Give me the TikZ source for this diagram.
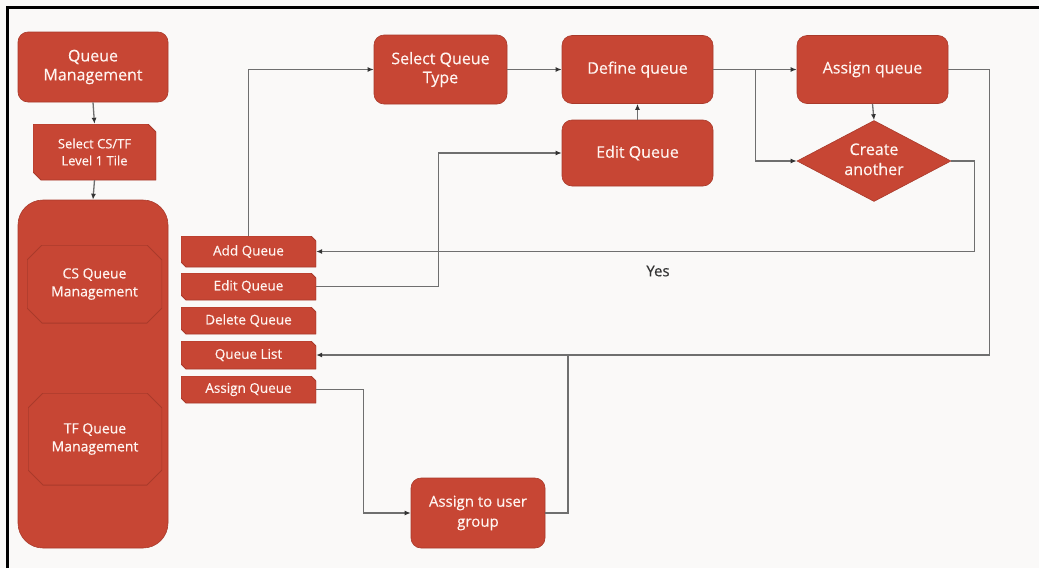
\documentclass[tikz,border=0pt]{standalone}
\usepackage{fontspec}
\setmainfont{Open Sans}[FakeBold=0.35]
\usetikzlibrary{arrows.meta,shapes.geometric}
\definecolor{qred}{HTML}{C74634}
\definecolor{qedge}{HTML}{A93A2B}
\definecolor{qline}{HTML}{6F6F6F}
\definecolor{qbg}{HTML}{FAF9F8}
\definecolor{qtxt}{HTML}{FFF4F0}
\definecolor{qdark}{HTML}{333333}
\tikzset{
  redbox/.style={rectangle, rounded corners=10pt, fill=qred, draw=qedge, line width=0.6pt,
    text=qtxt, align=center, inner sep=0pt, font=\fontsize{16}{19}\selectfont},
  chamf/.style={rectangle, inner sep=0pt, text=qtxt, align=center,
    path picture={\fill[qred, draw=qedge, line width=0.8pt]
      (path picture bounding box.north west)
      -- ([xshift=-#1]path picture bounding box.north east)
      -- ([yshift=-#1]path picture bounding box.north east)
      -- (path picture bounding box.south east)
      -- ([xshift=#1]path picture bounding box.south west)
      -- ([yshift=#1]path picture bounding box.south west) -- cycle;}},
  octa/.style={rectangle, inner sep=0pt, text=qtxt, align=center,
    font=\fontsize{14}{18}\selectfont,
    path picture={\draw[qedge, line width=1pt]
      ([xshift=#1]path picture bounding box.north west)
      -- ([xshift=-#1]path picture bounding box.north east)
      -- ([yshift=-#1]path picture bounding box.north east)
      -- ([yshift=#1]path picture bounding box.south east)
      -- ([xshift=-#1]path picture bounding box.south east)
      -- ([xshift=#1]path picture bounding box.south west)
      -- ([yshift=#1]path picture bounding box.south west)
      -- ([yshift=-#1]path picture bounding box.north west) -- cycle;}},
  listitem/.style={chamf=5pt, minimum width=135pt, font=\fontsize{13.5}{16}\selectfont},
  conn/.style={draw=qline, line width=1.3pt, -{Latex[length=6pt,width=5pt,color=qdark]}},
  plainline/.style={draw=qline, line width=1.3pt}
}
\begin{document}
\begin{tikzpicture}[x=1pt, y=-1pt]
\useasboundingbox (0,0) rectangle (1039,568);
\fill[qbg] (0,0) rectangle (1039,568);
\draw[black, line width=3pt] (7.5,568) -- (7.5,7.5) -- (1039,7.5);

% left column
\node[redbox, minimum width=150pt, minimum height=70pt] (qm) at (93,67) {Queue\\Management};
\node[chamf=8pt, minimum width=123pt, minimum height=56pt, font=\fontsize{13}{17}\selectfont] (tile) at (94.5,152) {Select CS/TF\\Level 1 Tile};
\node[rectangle, rounded corners=25pt, fill=qred, draw=qedge, line width=0.6pt, minimum width=150pt, minimum height=348pt] (cont) at (93,374) {};
\node[octa=15pt, minimum width=135pt, minimum height=78pt] (csq) at (94.5,284) {CS Queue\\Management};
\node[octa=15pt, minimum width=134pt, minimum height=92pt] (tfq) at (95,439) {TF Queue\\Management};

% list items
\node[listitem, minimum height=31pt] (addq) at (248.5,251.5) {Add Queue};
\node[listitem, minimum height=27pt] (editq) at (248.5,286.5) {Edit Queue};
\node[listitem, minimum height=27pt] (delq) at (248.5,320.5) {Delete Queue};
\node[listitem, minimum height=28pt] (qlist) at (248.5,355) {Queue List};
\node[listitem, minimum height=27pt] (asgnq) at (248.5,389.5) {Assign Queue};

% right part
\node[redbox, minimum width=133pt, minimum height=69pt] (sqt) at (440.5,69.5) {Select Queue\\Type};
\node[redbox, minimum width=151pt, minimum height=68pt] (defq) at (637.5,69.5) {Define queue};
\node[redbox, minimum width=151pt, minimum height=66pt] (editb) at (637.5,153) {Edit Queue};
\node[redbox, minimum width=151pt, minimum height=68pt] (asgq) at (872.5,69.5) {Assign queue};
\node[diamond, aspect=1.9, fill=qred, draw=qedge, line width=0.6pt, inner sep=0pt,
  minimum width=154pt, minimum height=81pt, text=qtxt,
  font=\fontsize{16}{20}\selectfont] (create) at (874,161)
  {\raisebox{5pt}{\begin{tabular}{@{}c@{}}Create\\another\end{tabular}}};
\node[redbox, minimum width=134pt, minimum height=70pt, font=\fontsize{15}{20}\selectfont] (aug) at (478,513) {Assign to user\\group};
\node[text=qdark, font=\fontsize{15}{18}\selectfont] (yes) at (658,271) {Yes};

% connectors
\draw[conn] (qm.south) -- (tile.north);
\draw[conn] (tile.south) -- (cont.north);
\draw[conn] (addq.north) |- (sqt.west);
\draw[conn] (sqt.east) -- (defq.west);
\draw[conn] (editq.east) -- ++(122,0) |- (editb.west);
\draw[conn] (editb.north) -- (defq.south);
\draw[conn] (defq.east) -- (asgq.west);
\draw[conn] (defq.east) -- ++(42,0) |- (create.west);
\draw[conn] (asgq.south) -- (create.north);
\draw[conn] (create.east) -- ++(23,0) |- (addq.east);
\draw[conn] (asgq.east) -- ++(41,0) |- (qlist.east);
\draw[conn] (asgnq.east) -- ++(47,0) |- (aug.west);
\coordinate (join) at (568,355);
\draw[plainline] (aug.east) -| (join);
\end{tikzpicture}
\end{document}
